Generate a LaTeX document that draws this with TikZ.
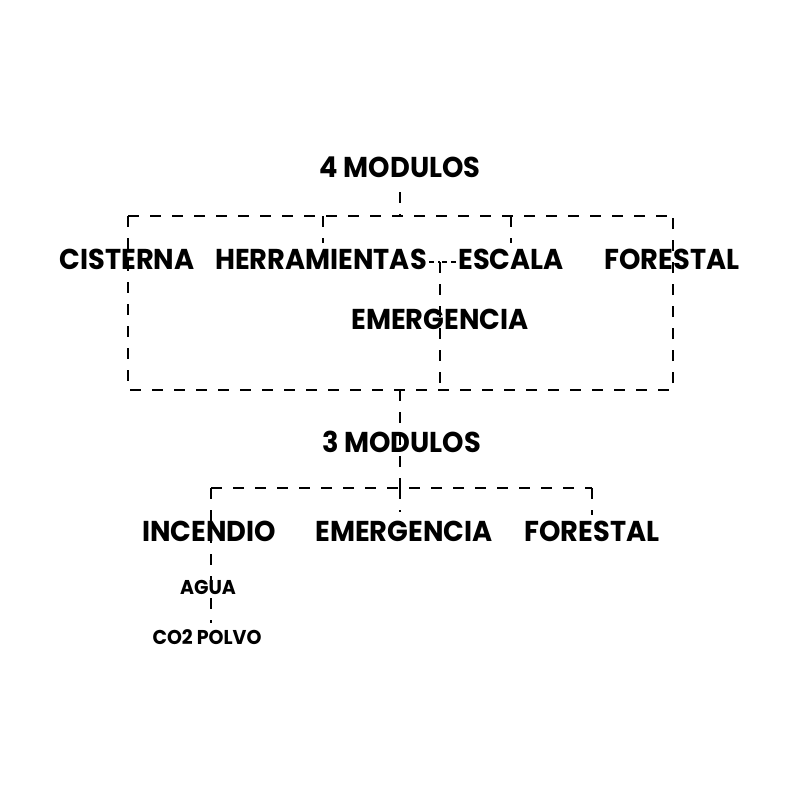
\documentclass[tikz,border=0pt]{standalone}
\usepackage{fontspec}
\setmainfont{Poppins}[FakeStretch=0.95]
\usepackage{tikz}
\usetikzlibrary{positioning}
\tikzstyle{titulo} = [inner sep=0pt, anchor=base, font=\fontsize{28.7}{30}\selectfont\bfseries]
\tikzstyle{sub} = [inner sep=0pt, anchor=base, font=\fontsize{20}{22}\selectfont\bfseries]
\tikzstyle{enlace} = [line width=1.8pt, dash pattern=on 11pt off 11pt]

\begin{document}
\begin{tikzpicture}[x=1pt, y=-1pt]
  \useasboundingbox (0,0) rectangle (800,800);

  % 4 modulos
  \node[titulo] (m4) at (400,177) {4 MODULOS};
  \node[titulo] (cis) at (127,269) {CISTERNA};
  \node[titulo] (her) at (321,269) {HERRAMIENTAS};
  \node[titulo] (esc) at (511,269) {ESCALA};
  \node[titulo] (for) at (672,269) {FORESTAL};
  \node[titulo] (eme) at (440,329) {EMERGENCIA};

  % 3 modulos
  \node[titulo] (m3) at (401.5,452) {3 MODULOS};
  \node[titulo] (inc) at (209,541) {INCENDIO};
  \node[titulo] (em2) at (404,541) {EMERGENCIA};
  \node[titulo] (fo2) at (592,541) {FORESTAL};
  \node[sub] (agu) at (208,594) {AGUA};
  \node[sub] (co2) at (207,644) {CO2 POLVO};

  % esquinas
  \coordinate (r4) at (400,216);
  \coordinate (tl) at (128,216);
  \coordinate (tr) at (673,216);
  \coordinate (bl) at (128,390);
  \coordinate (br) at (673,390);
  \coordinate (lk) at (440,262);
  \coordinate (lb) at (440,390);
  \coordinate (b3) at (400,390);
  \coordinate (r3) at (400,488);
  \coordinate (il) at (211,488);
  \coordinate (ir) at (592,488);
  \coordinate (fin) at (211,623);

  % caja superior
  \draw[enlace, shorten <=15pt] (m4.south) -- (r4);
  \draw[enlace] (tl) -- (tr);
  \draw[enlace] (tl) -- (bl) -- (br) -- (tr);
  \draw[enlace, shorten >=5pt] (tl -| 323,0) -- (323,0 |- her.north);
  \draw[enlace, shorten >=5pt] (tl -| esc) -- (esc.north);
  \draw[enlace, dash pattern=on 5pt off 4pt, shorten <=2pt] (her.east |- lk) -- (lk);
  \draw[enlace, dash pattern=on 5pt off 4pt, shorten <=2pt] (esc.west |- lk) -- (lk);
  \draw[enlace] (lk) -- (lb);

  % caja inferior
  \draw[enlace] (b3) -- (r3);
  \draw[enlace] (il) -- (ir);
  \draw[enlace, shorten >=8pt] (r3) -- (r3 |- em2.north);
  \draw[enlace, shorten >=5pt] (ir) -- (ir |- fo2.north);
  \draw[enlace] (il) -- (fin);
\end{tikzpicture}
\end{document}
